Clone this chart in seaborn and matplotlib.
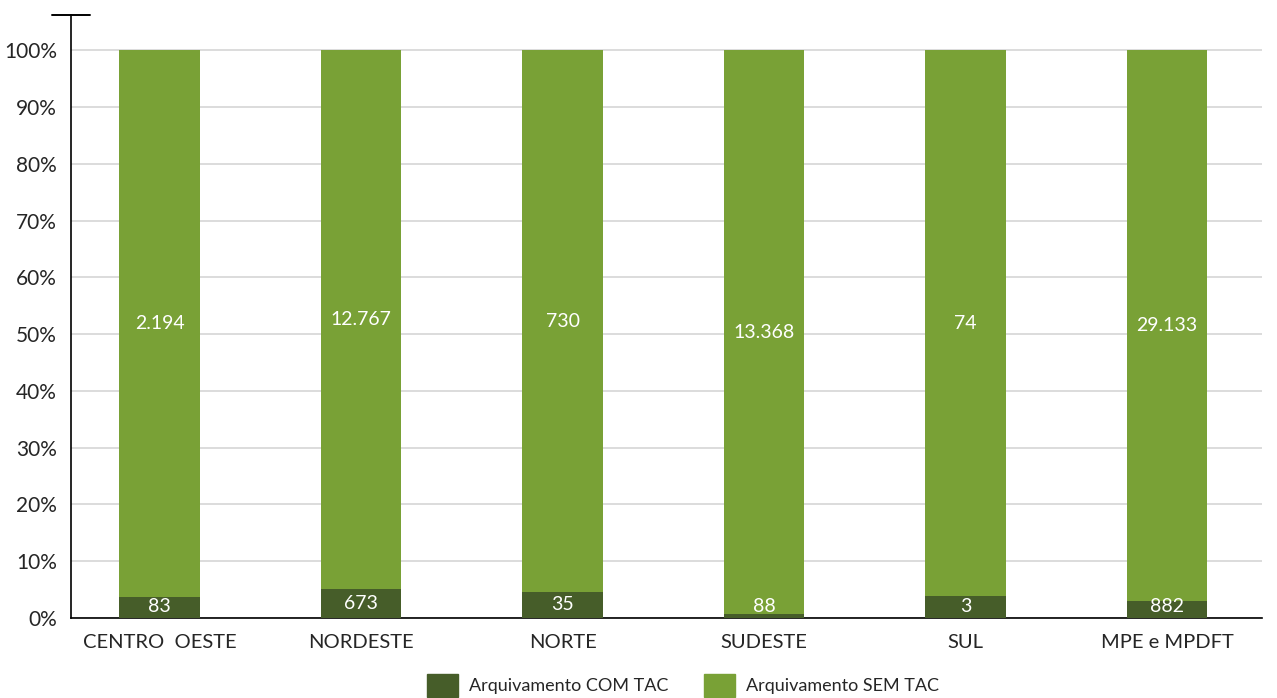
import pandas as pd
import matplotlib.pyplot as plt
import seaborn as sns
from matplotlib.patches import Patch

regioes = ["CENTRO  OESTE", "NORDESTE", "NORTE", "SUDESTE", "SUL", "MPE e MPDFT"]
com_tac = [83, 673, 35, 88, 3, 882]
sem_tac = [2194, 12767, 730, 13368, 74, 29133]
com_labels = ["83", "673", "35", "88", "3", "882"]
sem_labels = ["2.194", "12.767", "730", "13.368", "74", "29.133"]

df = pd.DataFrame({"regiao": regioes, "com": com_tac, "sem": sem_tac})
df["total"] = df["com"] + df["sem"]
df["pct_com"] = df["com"] / df["total"] * 100
df["pct_total"] = 100.0

sns.set_style("white")
plt.rcParams["font.family"] = ["Lato", "DejaVu Sans"]

cor_com = "#465D29"
cor_sem = "#79A136"

fig, ax = plt.subplots(figsize=(12.77, 6.98), dpi=100)
fig.subplots_adjust(left=0.0556, right=0.988, bottom=0.115, top=0.979)

sns.barplot(data=df, x="regiao", y="pct_total", color=cor_sem, width=0.4,
            saturation=1, linewidth=0, ax=ax, zorder=2)
sns.barplot(data=df, x="regiao", y="pct_com", color=cor_com, width=0.4,
            saturation=1, linewidth=0, ax=ax, zorder=3)

for i, row in df.iterrows():
    ax.text(i, max(row["pct_com"] / 2, 1.9), com_labels[i], ha="center", va="center",
            color="white", fontsize=14, zorder=4)
    ax.text(i, (row["pct_com"] + 100) / 2, sem_labels[i], ha="center", va="center",
            color="white", fontsize=14, zorder=4)

ax.set_ylim(0, 106.3)
ax.set_xlim(-0.44, 5.47)
ax.set_yticks(range(0, 101, 10))
ax.set_yticklabels([f"{v}%" for v in range(0, 101, 10)], fontsize=15)
ax.tick_params(axis="y", length=6, color="#d0d0d0", width=1.2, pad=4)
ax.tick_params(axis="x", length=0, pad=12, labelsize=14.5)
ax.yaxis.grid(True, color="#d6d6d6", linewidth=1.2, zorder=0)
ax.set_axisbelow(True)
ax.set_xlabel("")
ax.set_ylabel("")
for s in ["top", "right"]:
    ax.spines[s].set_visible(False)
ax.spines["left"].set_color("black")
ax.spines["bottom"].set_color("black")
ax.spines["left"].set_linewidth(1.2)
ax.spines["bottom"].set_linewidth(1.2)

# traço no topo do eixo y
ax.plot([-0.016, 0.016], [1, 1], transform=ax.transAxes, color="black",
        linewidth=1.4, clip_on=False)

handles = [Patch(color=cor_com, label="Arquivamento COM TAC"),
           Patch(color=cor_sem, label="Arquivamento SEM TAC")]
fig.legend(handles=handles, loc="lower center", bbox_to_anchor=(0.535, -0.022), ncol=2,
           frameon=False, fontsize=13, handlelength=1.7, handleheight=1.6,
           columnspacing=2.0, handletextpad=0.6)

fig.savefig("out.png", dpi=100)
